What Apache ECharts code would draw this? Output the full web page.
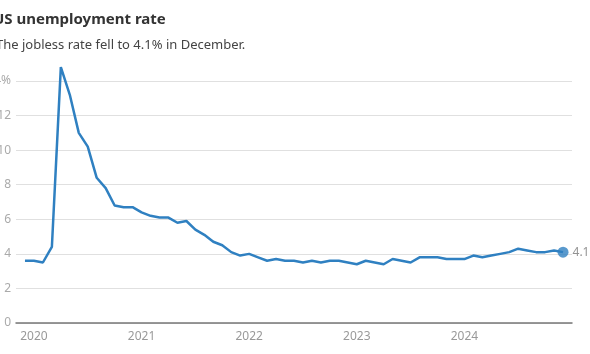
<!DOCTYPE html>
<html>
<head>
<meta charset="utf-8">
<script src="https://cdn.jsdelivr.net/npm/echarts@6/dist/echarts.min.js"></script>
<style>
html,body{margin:0;padding:0;background:#fff;}
#c{width:590px;height:354px;}
</style>
</head>
<body>
<div id="c"></div>
<script>
// Monthly US unemployment rate, Dec 2019 .. Dec 2024 (percent)
var startYear = 2019, startMonth = 12;
var rates = [
  3.6,
  3.6, 3.5, 4.4, 14.8, 13.2, 11.0, 10.2, 8.4, 7.8, 6.8, 6.7, 6.7,
  6.4, 6.2, 6.1, 6.1, 5.8, 5.9, 5.4, 5.1, 4.7, 4.5, 4.1, 3.9,
  4.0, 3.8, 3.6, 3.7, 3.6, 3.6, 3.5, 3.6, 3.5, 3.6, 3.6, 3.5,
  3.4, 3.6, 3.5, 3.4, 3.7, 3.6, 3.5, 3.8, 3.8, 3.8, 3.7, 3.7,
  3.7, 3.9, 3.8, 3.9, 4.0, 4.1, 4.3, 4.2, 4.1, 4.1, 4.2, 4.1
];
var yearLabels = ['2020', '2021', '2022', '2023', '2024'];
var yTicks = [0, 2, 4, 6, 8, 10, 12, 14];
var endLabel = '4.1%';

// x = months since Jan 2020
var offset = (startYear - 2020) * 12 + (startMonth - 1);
var lineData = rates.map(function (v, i) { return [i + offset, v]; });
var last = lineData[lineData.length - 1];
var yearPos = yearLabels.map(function (y) { return (parseInt(y, 10) - 2020) * 12; });

var chart = echarts.init(document.getElementById('c'), null, {renderer: 'canvas'});
chart.setOption({
  animation: false,
  backgroundColor: '#fff',
  title: [
    {text: 'US unemployment rate', left: -12, top: 7,
     textStyle: {fontFamily: 'Noto Sans', fontSize: 15, fontWeight: 'bold', color: '#333'}},
    {text: 'The jobless rate fell to 4.1% in December.', left: -9, top: 34,
     textStyle: {fontFamily: 'Noto Sans', fontSize: 13, fontWeight: 'normal', color: '#444'}}
  ],
  grid: {left: 16, right: 18, top: 81, bottom: 31, containLabel: false, outerBoundsMode: 'none'},
  xAxis: {
    type: 'value', min: -2, max: 60,
    axisLine: {show: true, onZero: false, lineStyle: {color: '#777', width: 1.5}},
    axisTick: {show: false},
    splitLine: {show: false},
    axisLabel: {
      customValues: yearPos,
      margin: 8,
      color: '#999', fontFamily: 'Noto Sans', fontSize: 12,
      formatter: function (v) { return String(2020 + Math.round(v / 12)); }
    }
  },
  yAxis: {
    type: 'value', min: 0, max: 14, interval: 2,
    axisLine: {show: false},
    axisTick: {show: false},
    splitLine: {show: true, lineStyle: {color: '#e0e0e0', width: 1}},
    axisLabel: {
      margin: 5, color: '#aaa', fontFamily: 'Noto Sans', fontSize: 12,
      formatter: function (v) { return v === yTicks[yTicks.length - 1] ? v + '%' : String(v); }
    }
  },
  series: [
    {
      type: 'line', data: lineData, showSymbol: false, clip: false,
      lineStyle: {color: '#2f80c1', width: 2.5}, z: 3
    },
    {
      type: 'scatter', data: [last], symbolSize: 11, clip: false,
      itemStyle: {color: '#2f80c1'}, z: 4,
      label: {show: true, position: 'right', distance: 4, formatter: endLabel,
              color: '#777', fontFamily: 'Noto Sans', fontSize: 12}
    }
  ]
});
</script>
</body>
</html>
